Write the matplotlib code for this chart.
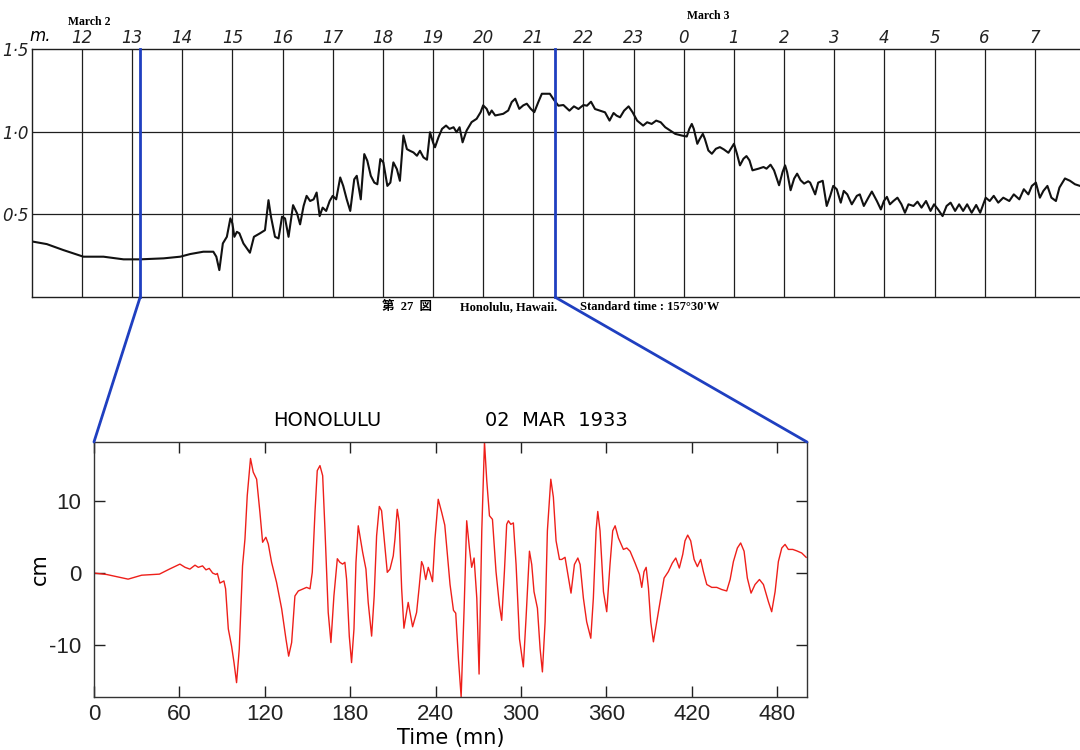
import numpy as np
import matplotlib.pyplot as plt
from matplotlib.patches import ConnectionPatch

plt.rcParams['axes.unicode_minus'] = False

# marigram trace, Honolulu, hours counted from 0h March 2 (local standard time), level in metres
top_hours = [11.04, 11.30, 11.63, 12.03, 12.43, 12.83, 13.16, 13.63, 13.96, 14.16, 14.42, 14.62,
             14.68, 14.74, 14.81, 14.89, 14.96, 15.00, 15.04, 15.09, 15.14, 15.22, 15.35, 15.43,
             15.55, 15.65, 15.72, 15.77, 15.85, 15.92, 15.99, 16.05, 16.12, 16.21, 16.29, 16.35,
             16.42, 16.48, 16.55, 16.62, 16.68, 16.74, 16.80, 16.87, 16.94, 17.00, 17.07, 17.15,
             17.21, 17.28, 17.35, 17.43, 17.48, 17.56, 17.63, 17.69, 17.76, 17.83, 17.89, 17.95,
             18.01, 18.09, 18.15, 18.21, 18.28, 18.34, 18.41, 18.48, 18.54, 18.61, 18.68, 18.74,
             18.81, 18.88, 18.94, 19.00, 19.04, 19.11, 19.18, 19.26, 19.33, 19.41, 19.47, 19.53,
             19.59, 19.67, 19.77, 19.87, 19.95, 20.00, 20.07, 20.12, 20.17, 20.24, 20.40, 20.50,
             20.57, 20.64, 20.72, 20.80, 20.87, 20.95, 21.02, 21.10, 21.17, 21.33, 21.40, 21.50,
             21.60, 21.72, 21.81, 21.90, 22.00, 22.07, 22.15, 22.23, 22.33, 22.43, 22.52, 22.60,
             22.66, 22.73, 22.81, 22.90, 22.98, 23.07, 23.19, 23.27, 23.36, 23.45, 23.54, 23.63,
             23.73, 23.83, 23.96, 24.06, 24.11, 24.16, 24.20, 24.27, 24.32, 24.38, 24.42, 24.49,
             24.56, 24.64, 24.72, 24.80, 24.89, 24.96, 25.00, 25.06, 25.12, 25.19, 25.25, 25.31,
             25.37, 25.49, 25.59, 25.65, 25.73, 25.80, 25.90, 25.97, 26.02, 26.06, 26.13, 26.20,
             26.26, 26.33, 26.40, 26.48, 26.52, 26.62, 26.68, 26.77, 26.85, 26.92, 26.98, 27.05,
             27.13, 27.19, 27.26, 27.35, 27.45, 27.51, 27.59, 27.68, 27.75, 27.85, 27.93, 27.99,
             28.05, 28.11, 28.18, 28.26, 28.34, 28.41, 28.48, 28.58, 28.66, 28.74, 28.83, 28.92,
             28.99, 29.07, 29.16, 29.24, 29.32, 29.41, 29.49, 29.57, 29.65, 29.74, 29.83, 29.91,
             29.96, 30.02, 30.10, 30.18, 30.27, 30.37, 30.49, 30.58, 30.69, 30.78, 30.87, 30.94,
             31.02, 31.10, 31.17, 31.25, 31.33, 31.42, 31.49, 31.60, 31.70, 31.80, 31.90]
top_level = [0.335, 0.321, 0.285, 0.245, 0.245, 0.229, 0.229, 0.235, 0.245, 0.261, 0.275, 0.275,
             0.245, 0.164, 0.325, 0.365, 0.476, 0.446, 0.365, 0.395, 0.386, 0.325, 0.269, 0.365,
             0.386, 0.405, 0.586, 0.486, 0.365, 0.355, 0.486, 0.476, 0.365, 0.556, 0.506, 0.440,
             0.551, 0.612, 0.581, 0.591, 0.632, 0.490, 0.541, 0.521, 0.581, 0.612, 0.591, 0.723,
             0.672, 0.591, 0.521, 0.712, 0.733, 0.591, 0.864, 0.824, 0.733, 0.692, 0.682, 0.834,
             0.814, 0.672, 0.692, 0.814, 0.773, 0.703, 0.976, 0.894, 0.884, 0.874, 0.854, 0.884,
             0.844, 0.830, 0.996, 0.935, 0.905, 0.966, 1.016, 1.036, 1.016, 1.026, 0.996, 1.026,
             0.935, 1.006, 1.057, 1.077, 1.117, 1.158, 1.137, 1.101, 1.127, 1.097, 1.107, 1.127,
             1.178, 1.198, 1.137, 1.158, 1.168, 1.137, 1.117, 1.178, 1.228, 1.228, 1.196, 1.156,
             1.160, 1.126, 1.152, 1.136, 1.160, 1.156, 1.180, 1.136, 1.126, 1.116, 1.066, 1.112,
             1.096, 1.086, 1.126, 1.152, 1.116, 1.066, 1.036, 1.056, 1.046, 1.066, 1.056, 1.026,
             1.006, 0.986, 0.976, 0.970, 1.016, 1.046, 1.016, 0.926, 0.956, 0.986, 0.956, 0.886,
             0.866, 0.896, 0.906, 0.892, 0.872, 0.906, 0.926, 0.866, 0.796, 0.836, 0.852, 0.826,
             0.766, 0.776, 0.786, 0.776, 0.800, 0.766, 0.676, 0.756, 0.796, 0.756, 0.646, 0.716,
             0.746, 0.706, 0.686, 0.700, 0.692, 0.621, 0.692, 0.703, 0.551, 0.612, 0.672, 0.652,
             0.571, 0.642, 0.621, 0.561, 0.612, 0.621, 0.551, 0.601, 0.638, 0.581, 0.530, 0.581,
             0.606, 0.561, 0.581, 0.601, 0.561, 0.510, 0.561, 0.551, 0.577, 0.541, 0.581, 0.521,
             0.561, 0.530, 0.490, 0.551, 0.571, 0.521, 0.561, 0.521, 0.561, 0.510, 0.557, 0.510,
             0.551, 0.601, 0.581, 0.612, 0.571, 0.601, 0.581, 0.621, 0.591, 0.652, 0.621, 0.672,
             0.692, 0.601, 0.642, 0.672, 0.601, 0.581, 0.662, 0.717, 0.703, 0.682, 0.672]

hour_ticks = list(range(12, 32))
hour_labels = [str(h % 24) for h in hour_ticks]
level_ticks = [0.5, 1.0, 1.5]
level_labels = ['0·5', '1·0', '1·5']

# window shown below
zoom_start = 13.16
zoom_end = 21.44

# residual (detided) record, minutes from window start, cm
t_min = [0, 8.9, 24, 33.5, 46, 53, 60.4, 64, 67.4, 71, 73.3, 76.3, 78.7, 81, 83.4, 85.7, 86.7,
         88.5, 91.3, 92.5, 94.4, 96.7, 98.4, 100.2, 102.1, 104.4, 106.1, 107.7, 110, 111.9, 114.3,
         116.6, 118.5, 120.8, 122.5, 124.8, 128.3, 131.9, 134.9, 136.8, 138.9, 141.2, 143.6, 149.4,
         151.8, 153.4, 155.3, 156.9, 158.8, 160.7, 162.3, 164.6, 166.5, 168.6, 171, 172.8, 174.7,
         176.3, 177.5, 179.4, 181, 182.7, 184.1, 185.7, 186.9, 188.8, 191.1, 192.7, 195.1, 196.9,
         198.6, 200.5, 202.1, 203.7, 206.1, 208, 210.3, 211.5, 213.1, 214.5, 216.2, 217.8, 220.8,
         223.9, 226.7, 228.6, 230.2, 231.4, 233.1, 234.9, 236.1, 237.9, 239.6, 241.9, 244.3, 246.5,
         250.2, 252.6, 254.2, 256.1, 258, 260.1, 261.9, 263.8, 265.4, 267.1, 269, 270.6, 272.5,
         274.4, 276, 277.9, 280, 282.5, 284.9, 286.5, 288.4, 290, 291.2, 292.9, 294.7, 296.6, 299,
         301.7, 303.6, 306, 307.6, 309.2, 311.6, 313.5, 315.1, 317, 318.6, 321, 322.8, 324.7, 327.1,
         328.7, 331, 333.4, 335.2, 337.6, 340, 341.6, 343.9, 346.2, 349.1, 350.9, 352.8, 354, 355.6,
         358, 360.3, 362.6, 364.5, 366.2, 368.5, 372, 374.4, 376.7, 380.2, 383.3, 384.9, 386.5, 388,
         389.6, 391.2, 393.1, 395, 397.8, 400.6, 403.6, 406.4, 408.8, 411.3, 413.7, 415.3, 417.2,
         419.3, 421.7, 424, 426.3, 428.2, 430.6, 434.1, 437.6, 441.1, 444.6, 447, 449.3, 452.1,
         454.4, 456.8, 459.1, 461.7, 464.5, 467.6, 470.4, 473.9, 476.2, 478.6, 480.9, 483.3, 485.6,
         487.9, 491, 493.8, 497.3, 500.4]
eta_cm = [0, -0.2, -0.85, -0.3, -0.15, 0.55, 1.25, 0.8, 0.55, 1.1, 0.8, 1.0, 0.45, 0.65, 0, -0.2,
          -0.05, -1.4, -1.1, -2.2, -7.8, -10.2, -12.5, -15.3, -10.6, 1.0, 4.75, 10.8, 16.0, 14.1,
          13.1, 8.5, 4.3, 5.0, 4.05, 1.5, -1.3, -5.0, -9.2, -11.6, -9.7, -3.2, -2.5, -2.0, -2.2, 0.1,
          8.5, 14.3, 15.0, 13.6, 6.15, -5.5, -9.7, -3.2, 2.0, 1.5, 1.25, 1.5, -0.85, -8.8, -12.5,
          -7.8, 1.5, 6.6, 5.2, 2.9, 0.55, -4.1, -8.8, -3.2, 5.2, 9.3, 8.7, 5.2, 0.1, 0.55, 2.4, 4.75,
          8.9, 7.1, -2.2, -7.7, -4.1, -7.5, -5.5, -1.8, 1.6, 1.0, -0.9, 0.8, 0.1, -1.2, 4.75, 10.3,
          8.5, 6.7, -1.6, -5.2, -5.6, -12, -17.3, -4.9, 7.3, 3.5, 0.8, 2.1, -3.5, -14.1, 5.9, 18.3,
          12.9, 8.0, 7.5, 0.2, -4.5, -6.6, 0.2, 6.8, 7.3, 6.8, 7.0, 1.2, -9.2, -13.1, -6.3, 3.05, 1.2,
          -2.6, -4.9, -10.6, -13.8, -6.8, 5.9, 13.1, 10.6, 4.5, 1.9, 1.9, 2.2, -0.7, -2.8, 1.2, 2.1,
          1.2, -3.5, -6.8, -9.1, -3.5, 5.9, 8.6, 5.9, -2.6, -5.4, 1.2, 5.9, 6.6, 4.9, 3.3, 3.5, 3.05,
          1.4, -0.2, -2.0, 0.2, 0.8, -2.1, -6.8, -9.6, -7.3, -4.0, -0.7, 0.2, 1.4, 2.1, 0.7, 2.6, 4.5,
          5.3, 4.5, 1.9, 0.9, 1.9, 0.2, -1.6, -2.0, -2.0, -2.3, -2.5, -0.9, 1.6, 3.5, 4.2, 3.05, -0.7,
          -2.8, -1.6, -0.9, -1.6, -4.0, -5.4, -2.6, 1.6, 3.5, 4.0, 3.3, 3.3, 3.1, 2.8, 2.2]
time_ticks = [0, 60, 120, 180, 240, 300, 360, 420, 480]
cm_ticks = [-10, 0, 10]

ink = '#1e1e1e'
blue = '#1f3fc0'
red = '#ee1f1a'
serif = ['Liberation Serif', 'Noto Sans CJK JP']

fig = plt.figure(figsize=(10.8, 7.5), dpi=100)

# ---- scanned marigram ----
ax1 = fig.add_axes([0.0294, 0.6036, 0.9706, 0.3315])
for h in hour_ticks:
    ax1.axvline(h, color=ink, lw=0.9)
for lv in (0.5, 1.0):
    ax1.axhline(lv, color=ink, lw=0.9)
ax1.plot(top_hours, top_level, color='#111111', lw=1.5, solid_joinstyle='round')
ax1.set_xlim(11.0, 31.9)
ax1.set_ylim(0, 1.5)
ax1.spines['right'].set_visible(False)
for s in ('left', 'top', 'bottom'):
    ax1.spines[s].set_color(ink)
    ax1.spines[s].set_linewidth(1.0)
ax1.xaxis.tick_top()
ax1.set_xticks(hour_ticks, hour_labels)
ax1.set_yticks(level_ticks, level_labels)
ax1.tick_params(length=0, labelsize=12, colors='#222222')
ax1.tick_params(axis='x', pad=1)
ax1.tick_params(axis='y', pad=2)
for lbl in ax1.get_xticklabels() + ax1.get_yticklabels():
    lbl.set_fontstyle('italic')

fig.text(40 / 1080, 1 - 36 / 750, 'm.', fontsize=12, fontstyle='italic', ha='center', va='center')
fig.text(89 / 1080, 1 - 22 / 750, 'March 2', fontsize=8.5, fontweight='bold',
         family=serif, ha='center', va='center')
fig.text(708 / 1080, 1 - 16 / 750, 'March 3', fontsize=8.5, fontweight='bold',
         family=serif, ha='center', va='center')
fig.text(382 / 1080, 1 - 307 / 750, '第  27  図', fontsize=9, fontweight='bold',
         family=serif, ha='left', va='center')
fig.text(460 / 1080, 1 - 307 / 750, 'Honolulu, Hawaii.', fontsize=9, fontweight='bold',
         family=serif, ha='left', va='center')
fig.text(580 / 1080, 1 - 307 / 750, 'Standard time : 157°30\'W', fontsize=9, fontweight='bold',
         family=serif, ha='left', va='center')

# ---- detided record ----
ax2 = fig.add_axes([0.0870, 0.0707, 0.6602, 0.3400])
ax2.plot(t_min, eta_cm, color=red, lw=1.0)
ax2.set_xlim(0, 501)
ax2.set_ylim(-17.3, 18.3)
ax2.set_xticks(time_ticks)
ax2.set_yticks(cm_ticks)
ax2.tick_params(direction='in', top=True, right=True, length=8, width=1.0,
                labelsize=16, colors='#222222')
ax2.tick_params(axis='x', pad=5)
ax2.tick_params(axis='y', pad=9)
for lbl in ax2.get_xticklabels() + ax2.get_yticklabels():
    lbl.set_family('Liberation Sans')
for s in ax2.spines.values():
    s.set_color('#333333')
    s.set_linewidth(1.0)
ax2.set_xlabel('Time (mn)', fontsize=15, labelpad=2)
ax2.set_ylabel('cm', fontsize=15)
ax2.yaxis.set_label_coords(-0.062, 0.5)
ax2.text(0.327, 1.085, 'HONOLULU', transform=ax2.transAxes, fontsize=14,
         ha='center', va='center')
ax2.text(0.649, 1.085, '02  MAR  1933', transform=ax2.transAxes, fontsize=14,
         ha='center', va='center')

# ---- zoom connectors ----
for hx, tx in ((zoom_start, 0), (zoom_end, 501)):
    ax1.plot([hx, hx], [1.5, 0], color=blue, lw=2.0, clip_on=False, zorder=5)
    con = ConnectionPatch(xyA=(hx, 0), coordsA=ax1.transData,
                          xyB=(tx, 18.3), coordsB=ax2.transData,
                          color=blue, lw=2.0, zorder=5)
    fig.add_artist(con)

fig.savefig('out.png', dpi=100)
